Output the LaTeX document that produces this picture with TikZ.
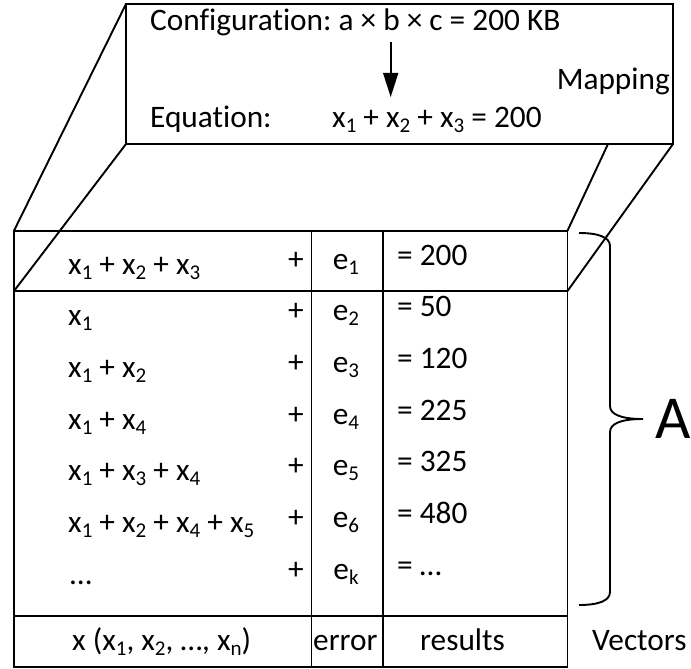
\documentclass[tikz,border=0pt]{standalone}
\usepackage{fontspec}
\setmainfont{Carlito}[Ligatures={NoCommon}]
\usetikzlibrary{arrows.meta}
\frenchspacing
\newcommand\sbs[1]{\raisebox{-5pt}{\fontsize{21}{21}\selectfont #1}}
\begin{document}
\begin{tikzpicture}[x=1pt,y=-1pt,
  frame/.style={line width=1.9pt},
  txt/.style={inner sep=0pt, anchor=base west, font=\fontsize{31.3}{37}\selectfont},
  ctxt/.style={txt, anchor=base},
  bigtxt/.style={inner sep=0pt, anchor=base west, font=\fontsize{61}{61}\selectfont},
  maparrow/.style={line width=1.6pt, -{Triangle[width=15pt,length=24pt]}},
  bracestyle/.style={line width=1.9pt}]
\useasboundingbox (0,0) rectangle (691,669);
% corners
\coordinate (TBtl) at (126,4);
\coordinate (TBbr) at (673,144);
\coordinate (TBbl) at (126,144);
\coordinate (TBd) at (608,144);
\coordinate (Ttl) at (14,230.7);
\coordinate (Ttr) at (567.5,230.7);
\coordinate (R1bl) at (14,291);
\coordinate (R1br) at (567.5,291);
\coordinate (R7bl) at (14,615.7);
\coordinate (R7br) at (567.5,615.7);
\coordinate (Tbr) at (567.5,667);
\coordinate (C1t) at (311.5,230.7);
\coordinate (C1b) at (311.5,667);
\coordinate (C2t) at (383,230.7);
\coordinate (C2b) at (383,667);
% top box
\draw[frame] (TBtl) rectangle (TBbr);
% slanted edges
\draw[frame] (TBtl) -- (Ttl);
\draw[frame] (TBbl) -- (R1bl);
\draw[frame] (TBd) -- (Ttr);
\draw[frame] (TBbr) -- (R1br);
% table
\draw[frame] (Ttl) rectangle (Tbr);
\draw[frame] (R1bl) -- (R1br);
\draw[frame] (R7bl) -- (R7br);
\draw[frame] (C1t) -- (C1b);
\draw[frame] (C2t) -- (C2b);
% top box text
\node[txt] (conf) at (150,31) {Configuration: a × b × c = 200 KB};
\node[txt] (eqlab) at (150,128) {Equation:};
\node[txt] (eq) at (332,128) {x\sbs{1} + x\sbs{2} + x\sbs{3} = 200};
\node[txt, anchor=base east] (map) at (670,89) {Mapping};
\coordinate (Aa) at (390.7,42);
\coordinate (Ab) at (390.7,97);
\draw[maparrow] (Aa) -- (Ab);
% rows
\node[txt] (l1) at (68,274) {x\sbs{1} + x\sbs{2} + x\sbs{3}};
\node[txt] (l2) at (68,325.7) {x\sbs{1}};
\node[txt] (l3) at (68,377.3) {x\sbs{1} + x\sbs{2}};
\node[txt] (l4) at (68,429) {x\sbs{1} + x\sbs{4}};
\node[txt] (l5) at (68,480.7) {x\sbs{1} + x\sbs{3} + x\sbs{4}};
\node[txt] (l6) at (68,532.3) {x\sbs{1} + x\sbs{2} + x\sbs{4} + x\sbs{5}};
\node[txt] (l7) at (70,584) {…};
\foreach \y [count=\i] in {269,320.7,372.3,424,475.7,527.3,579}{
  \node[ctxt] (p\i) at (296,\y) {+};
}
\node[ctxt] (e1) at (346,269) {e\sbs{1}};
\node[ctxt] (e2) at (346,320.7) {e\sbs{2}};
\node[ctxt] (e3) at (346,372.3) {e\sbs{3}};
\node[ctxt] (e4) at (346,424) {e\sbs{4}};
\node[ctxt] (e5) at (346,475.7) {e\sbs{5}};
\node[ctxt] (e6) at (346,527.3) {e\sbs{6}};
\node[ctxt] (e7) at (346,579) {e\sbs{k}};
\node[txt] (r1) at (397,265) {= 200};
\node[txt] (r2) at (397,316.7) {= 50};
\node[txt] (r3) at (397,368.3) {= 120};
\node[txt] (r4) at (397,420) {= 225};
\node[txt] (r5) at (397,471.7) {= 325};
\node[txt] (r6) at (397,523.3) {= 480};
\node[txt] (r7) at (397,575) {= …};
% bottom row
\node[txt] (vx) at (72,650) {x (x\sbs{1}, x\sbs{2}, …, x\sbs{n})};
\node[txt] (verr) at (313,650) {error};
\node[ctxt] (vres) at (462.5,650) {results};
\node[txt] (vec) at (592,650) {Vectors};
% brace
\coordinate (Bt) at (579,233);
\coordinate (Bb) at (579,605);
\coordinate (Btip) at (643,419);
\draw[bracestyle] (Bt) .. controls (598,233) and (610,237) .. (610,246)
  -- (610,406) .. controls (610,414) and (620,419) .. (Btip)
  .. controls (620,419) and (610,424) .. (610,432)
  -- (610,592) .. controls (610,601) and (598,605) .. (Bb);
\node[bigtxt] (Alab) at (655,438) {A};
\end{tikzpicture}
\end{document}
